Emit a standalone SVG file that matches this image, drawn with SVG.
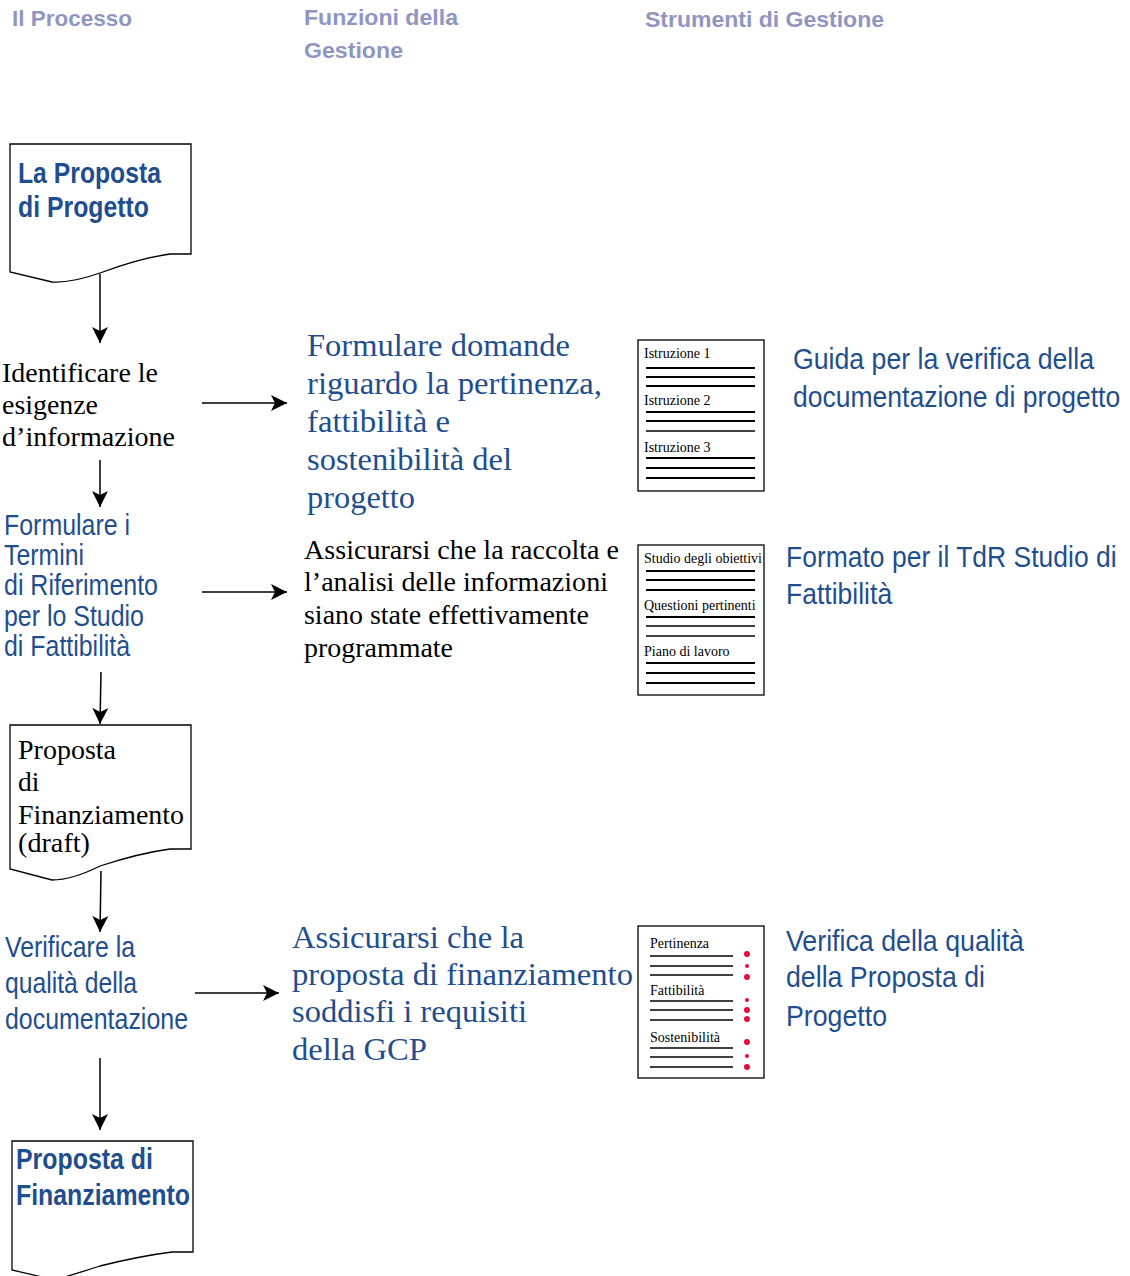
<svg xmlns="http://www.w3.org/2000/svg" width="1130" height="1276" viewBox="0 0 1130 1276">
<style>
.hdr{font-family:"Liberation Sans",Arial,sans-serif;font-weight:bold;font-size:22px;fill:#9096c2}
.bt{font-family:"Liberation Sans Narrow","Liberation Sans",Arial,sans-serif;font-size:30px;fill:#1f4e8e}
.bb{font-family:"Liberation Sans Narrow","Liberation Sans",Arial,sans-serif;font-weight:bold;font-size:29px;fill:#1f4e8e}
.sk{font-family:"Liberation Serif","Times New Roman",serif;font-size:27.5px;fill:#000}
.sb{font-family:"Liberation Serif","Times New Roman",serif;font-size:32.5px;fill:#1f4e8e}
.sm{font-family:"Liberation Serif","Times New Roman",serif;font-size:14px;fill:#000}
.doc{fill:#fff;stroke:#000;stroke-width:1.3}
.ln{stroke:#000;stroke-width:2}
.ln2{stroke:#000;stroke-width:1.3}
.conn{stroke:#000;stroke-width:1.5;fill:none}
.dot{fill:#e0103a}
</style>
<defs>
<marker id="ah" markerUnits="userSpaceOnUse" markerWidth="16" markerHeight="16" viewBox="0 0 16 16" refX="16" refY="8" orient="auto">
<path d="M0,0 L16,8 L0,16 L4,8 Z" fill="#000"/>
</marker>
</defs>

<g id="headers">
<text class="hdr" x="12" y="26" textLength="120" lengthAdjust="spacingAndGlyphs">Il Processo</text>
<text class="hdr" x="304" y="25" textLength="154" lengthAdjust="spacingAndGlyphs">Funzioni della</text>
<text class="hdr" x="304" y="58" textLength="99" lengthAdjust="spacingAndGlyphs">Gestione</text>
<text class="hdr" x="645" y="27" textLength="239" lengthAdjust="spacingAndGlyphs">Strumenti di Gestione</text>
</g>

<g id="connectors">
<line class="conn" x1="100" y1="274" x2="100" y2="343" marker-end="url(#ah)"/>
<line class="conn" x1="202" y1="403" x2="287" y2="403" marker-end="url(#ah)"/>
<line class="conn" x1="100" y1="460" x2="100" y2="507" marker-end="url(#ah)"/>
<line class="conn" x1="202" y1="592" x2="287" y2="592" marker-end="url(#ah)"/>
<line class="conn" x1="101" y1="672" x2="100" y2="724" marker-end="url(#ah)"/>
<line class="conn" x1="101" y1="871" x2="100" y2="932" marker-end="url(#ah)"/>
<line class="conn" x1="195" y1="993" x2="279" y2="993" marker-end="url(#ah)"/>
<line class="conn" x1="100" y1="1058" x2="100" y2="1130" marker-end="url(#ah)"/>
</g>

<g id="proposta-progetto">
<path class="doc" d="M10,144 H191 V254 H170 Q140,258 100,273 Q72,283 52,282 L10,272 Z"/>
<text class="bb" x="18" y="183" textLength="143" lengthAdjust="spacingAndGlyphs">La Proposta</text>
<text class="bb" x="18" y="217" textLength="131" lengthAdjust="spacingAndGlyphs">di Progetto</text>
</g>

<g id="identificare">
<text class="sk" x="2" y="382" textLength="156" lengthAdjust="spacingAndGlyphs">Identificare le</text>
<text class="sk" x="2" y="414" textLength="96" lengthAdjust="spacingAndGlyphs">esigenze</text>
<text class="sk" x="2" y="446" textLength="173" lengthAdjust="spacingAndGlyphs">d’informazione</text>
</g>

<g id="formulare-domande">
<text class="sb" x="307" y="356" textLength="263" lengthAdjust="spacingAndGlyphs">Formulare domande</text>
<text class="sb" x="307" y="394" textLength="295" lengthAdjust="spacingAndGlyphs">riguardo la pertinenza,</text>
<text class="sb" x="307" y="432" textLength="143" lengthAdjust="spacingAndGlyphs">fattibilità e</text>
<text class="sb" x="307" y="470" textLength="205" lengthAdjust="spacingAndGlyphs">sostenibilità del</text>
<text class="sb" x="307" y="508" textLength="108" lengthAdjust="spacingAndGlyphs">progetto</text>
</g>

<g id="doc-istruzioni">
<rect class="doc" x="638" y="340" width="126" height="151"/>
<text class="sm" x="644" y="358">Istruzione 1</text>
<line class="ln" x1="646" y1="368" x2="755" y2="368"/>
<line class="ln" x1="646" y1="377" x2="755" y2="377"/>
<line class="ln" x1="646" y1="386" x2="755" y2="386"/>
<text class="sm" x="644" y="405">Istruzione 2</text>
<line class="ln" x1="646" y1="412" x2="755" y2="412"/>
<line class="ln" x1="646" y1="421" x2="755" y2="421"/>
<line class="ln2" x1="646" y1="431" x2="755" y2="431"/>
<text class="sm" x="644" y="452">Istruzione 3</text>
<line class="ln" x1="646" y1="458" x2="755" y2="458"/>
<line class="ln" x1="646" y1="468" x2="755" y2="468"/>
<line class="ln" x1="646" y1="478" x2="755" y2="478"/>
</g>

<g id="guida" transform="translate(793,0) scale(0.87,1)">
<text class="bt" x="0" y="369" textLength="346" lengthAdjust="spacingAndGlyphs">Guida per la verifica della</text>
<text class="bt" x="0" y="407" textLength="376" lengthAdjust="spacingAndGlyphs">documentazione di progetto</text>
</g>

<g id="formulare-tdr">
<text class="bt" x="4" y="535" textLength="126" lengthAdjust="spacingAndGlyphs">Formulare i</text>
<text class="bt" x="4" y="565" textLength="80" lengthAdjust="spacingAndGlyphs">Termini</text>
<text class="bt" x="4" y="595" textLength="154" lengthAdjust="spacingAndGlyphs">di Riferimento</text>
<text class="bt" x="4" y="626" textLength="140" lengthAdjust="spacingAndGlyphs">per lo Studio</text>
<text class="bt" x="4" y="656" textLength="126" lengthAdjust="spacingAndGlyphs">di Fattibilità</text>
</g>

<g id="assicurarsi-raccolta">
<text class="sk" x="304" y="559" textLength="315" lengthAdjust="spacingAndGlyphs">Assicurarsi che la raccolta e</text>
<text class="sk" x="304" y="591" textLength="304" lengthAdjust="spacingAndGlyphs">l’analisi delle informazioni</text>
<text class="sk" x="304" y="624" textLength="285" lengthAdjust="spacingAndGlyphs">siano state effettivamente</text>
<text class="sk" x="304" y="657" textLength="149" lengthAdjust="spacingAndGlyphs">programmate</text>
</g>

<g id="doc-studio">
<rect class="doc" x="638" y="545" width="126" height="150"/>
<text class="sm" x="644" y="563" textLength="118" lengthAdjust="spacingAndGlyphs">Studio degli obiettivi</text>
<line class="ln" x1="646" y1="571" x2="755" y2="571"/>
<line class="ln" x1="646" y1="580" x2="755" y2="580"/>
<line class="ln" x1="646" y1="590" x2="755" y2="590"/>
<text class="sm" x="644" y="610">Questioni pertinenti</text>
<line class="ln" x1="646" y1="617" x2="755" y2="617"/>
<line class="ln2" x1="646" y1="626" x2="755" y2="626"/>
<line class="ln2" x1="646" y1="636" x2="755" y2="636"/>
<text class="sm" x="644" y="656">Piano di lavoro</text>
<line class="ln" x1="646" y1="663" x2="755" y2="663"/>
<line class="ln" x1="646" y1="673" x2="755" y2="673"/>
<line class="ln" x1="646" y1="683" x2="755" y2="683"/>
</g>

<g id="formato-tdr" transform="translate(786,0) scale(0.87,1)">
<text class="bt" x="0" y="567" textLength="380" lengthAdjust="spacingAndGlyphs">Formato per il TdR Studio di</text>
<text class="bt" x="0" y="604" textLength="122" lengthAdjust="spacingAndGlyphs">Fattibilità</text>
</g>

<g id="proposta-draft">
<path class="doc" d="M10,725 H191 V849 H170 Q140,853 100,866 Q72,880 52,880 L10,869 Z"/>
<text class="sk" x="18" y="759" textLength="98" lengthAdjust="spacingAndGlyphs">Proposta</text>
<text class="sk" x="18" y="791">di</text>
<text class="sk" x="18" y="824" textLength="166" lengthAdjust="spacingAndGlyphs">Finanziamento</text>
<text class="sk" x="18" y="852" textLength="72" lengthAdjust="spacingAndGlyphs">(draft)</text>
</g>

<g id="verificare">
<text class="bt" x="5" y="957" textLength="130" lengthAdjust="spacingAndGlyphs">Verificare la</text>
<text class="bt" x="5" y="993" textLength="132" lengthAdjust="spacingAndGlyphs">qualità della</text>
<text class="bt" x="5" y="1029" textLength="183" lengthAdjust="spacingAndGlyphs">documentazione</text>
</g>

<g id="assicurarsi-gcp">
<text class="sb" x="292" y="948" textLength="232" lengthAdjust="spacingAndGlyphs">Assicurarsi che la</text>
<text class="sb" x="292" y="985" textLength="341" lengthAdjust="spacingAndGlyphs">proposta di finanziamento</text>
<text class="sb" x="292" y="1022" textLength="235" lengthAdjust="spacingAndGlyphs">soddisfi i requisiti</text>
<text class="sb" x="292" y="1060" textLength="135" lengthAdjust="spacingAndGlyphs">della GCP</text>
</g>

<g id="doc-checklist">
<rect class="doc" x="638" y="926" width="126" height="152"/>
<text class="sm" x="650" y="948">Pertinenza</text>
<line class="ln2" x1="650" y1="956" x2="733" y2="956"/>
<line class="ln2" x1="650" y1="966" x2="733" y2="966"/>
<line class="ln2" x1="650" y1="975" x2="733" y2="975"/>
<circle class="dot" cx="747" cy="954" r="3"/>
<circle class="dot" cx="747" cy="966" r="2"/>
<circle class="dot" cx="747" cy="977" r="3"/>
<text class="sm" x="650" y="995">Fattibilità</text>
<line class="ln2" x1="650" y1="1001" x2="733" y2="1001"/>
<line class="ln2" x1="650" y1="1010" x2="733" y2="1010"/>
<line class="ln2" x1="650" y1="1020" x2="733" y2="1020"/>
<circle class="dot" cx="747" cy="1000" r="2"/>
<circle class="dot" cx="747" cy="1010" r="3"/>
<circle class="dot" cx="747" cy="1019" r="3"/>
<text class="sm" x="650" y="1042">Sostenibilità</text>
<line class="ln2" x1="650" y1="1048" x2="733" y2="1048"/>
<line class="ln2" x1="650" y1="1057" x2="733" y2="1057"/>
<line class="ln2" x1="650" y1="1067" x2="733" y2="1067"/>
<circle class="dot" cx="747" cy="1042" r="3"/>
<circle class="dot" cx="747" cy="1056" r="2"/>
<circle class="dot" cx="747" cy="1067" r="3"/>
</g>

<g id="verifica-qualita">
<text class="bt" x="786" y="951" textLength="238" lengthAdjust="spacingAndGlyphs">Verifica della qualità</text>
<text class="bt" x="786" y="987" textLength="199" lengthAdjust="spacingAndGlyphs">della Proposta di</text>
<text class="bt" x="786" y="1026" textLength="101" lengthAdjust="spacingAndGlyphs">Progetto</text>
</g>

<g id="proposta-finanziamento">
<path class="doc" d="M12,1141 H193 V1252 H172 Q140,1256 100,1266 Q75,1274 55,1280 L12,1270 Z"/>
<text class="bb" x="16" y="1169" textLength="137" lengthAdjust="spacingAndGlyphs">Proposta di</text>
<text class="bb" x="16" y="1205" textLength="174" lengthAdjust="spacingAndGlyphs">Finanziamento</text>
</g>
</svg>
